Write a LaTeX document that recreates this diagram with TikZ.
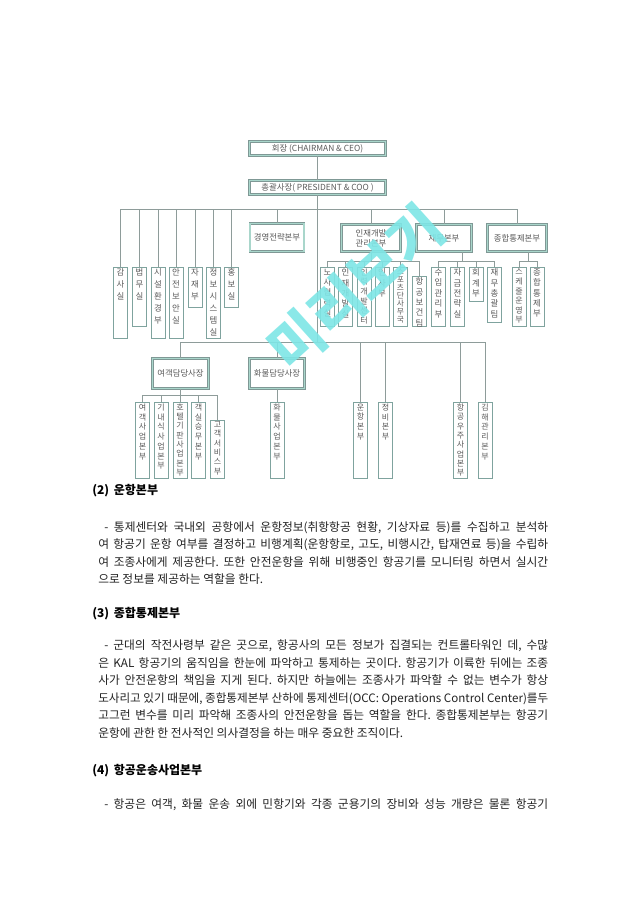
\documentclass[tikz,border=0pt]{standalone}
\usepackage{fontspec}
\usepackage{graphicx}
\setmainfont{Noto Sans CJK KR}
\definecolor{chartline}{HTML}{8E9C9A}
\definecolor{boxedge}{HTML}{7FA39E}
\definecolor{boxband}{HTML}{A9D6CB}
\definecolor{chartext}{HTML}{5A5A5A}
\definecolor{wmcyan}{HTML}{7EE6E6}
\definecolor{bodytext}{HTML}{222222}

% vertical label: [font size]{box height px}{pitch}{text}
\newcommand{\vlab}[4][6.3]{\parbox[c][\dimexpr #2pt*3/4-2pt\relax][t]{8pt}{\centering\fontsize{#1}{#3}\selectfont #4}}
% justified line, squeezed when too long
\newsavebox\jlinebox
\newcommand{\jline}[2]{\sbox\jlinebox{#2}%
  \ifdim\wd\jlinebox>#1\relax\resizebox{#1}{!}{\usebox\jlinebox}%
  \else\makebox[#1][s]{#2}\fi}

\tikzset{
  conn/.style={draw=chartline, line width=0.5pt},
  headbox/.style={draw=boxedge!70!gray, double=boxband, double distance=1.3pt,
    line width=0.4pt, fill=white, text=chartext, align=center, inner sep=1pt,
    font=\fontsize{6.3}{7.6}\selectfont},
  vbox/.style={draw=boxedge, line width=0.6pt, fill=white, text=chartext,
    anchor=north, inner xsep=1.2pt, inner ysep=1pt},
  bodyline/.style={anchor=base west, inner sep=0pt, text=bodytext,
    font=\fontsize{8.8}{10}\selectfont\frenchspacing},
  headline/.style={anchor=base west, inner sep=0pt, text=black,
    font=\fontsize{9}{10}\selectfont\bfseries},
  wmark/.style={text=wmcyan, inner sep=0pt, font=\fontsize{43}{43}\selectfont\bfseries}
}

\begin{document}
\begin{tikzpicture}[x=0.75pt, y=-0.75pt]
\fill[white] (0,0) rectangle (640,905);
\useasboundingbox (0,0) rectangle (640,905);

\node[headbox, minimum width=102pt, minimum height=10.6pt] (chair) at (317.5,148.5) {회장 (CHAIRMAN \& CEO)};
\node[headbox, minimum width=102pt, minimum height=10.6pt] (pres) at (317.5,187.5) {총괄사장( PRESIDENT \& COO )};

\coordinate (topbus) at (317.5,209);
\coordinate (lowbus) at (317.5,342);

\node[headbox, minimum width=40.6pt, minimum height=21pt] (mgmt) at (277,237.5) {경영전략본부};
\node[headbox, minimum width=44.4pt, minimum height=20.4pt] (hrd) at (371,238) {인재개발\\관리본부};
\node[headbox, minimum width=41.4pt, minimum height=20.4pt] (fin) at (444,238) {재무본부};
\node[headbox, minimum width=44.4pt, minimum height=20.4pt] (occ) at (517,238) {종합통제본부};

\node[vbox] (gamsa) at (120.5,267) {\vlab{71}{9pt}{감\\사\\실}};
\node[vbox] (legal) at (139.5,267) {\vlab{59}{9pt}{법\\무\\실}};
\node[vbox] (facility) at (158,267) {\vlab{71}{9pt}{시\\설\\환\\경\\부}};
\node[vbox] (security) at (176,267) {\vlab{71}{9pt}{안\\전\\보\\안\\실}};
\node[vbox] (supply) at (195,267) {\vlab{40}{9pt}{자\\재\\부}};
\node[vbox] (infosys) at (213.5,267) {\vlab{71}{9pt}{정\\보\\시\\스\\템\\실}};
\node[vbox] (promo) at (231.5,267) {\vlab{40}{9pt}{홍\\보\\실}};

\node[vbox] (labor) at (327.5,267) {\vlab{59}{7.8pt}{노\\사\\협\\력\\실}};
\node[vbox] (talent) at (345.5,267) {\vlab{59}{7.8pt}{인\\재\\개\\발\\실}};
\node[vbox] (hrcenter) at (364,267) {\vlab[6]{59}{7.2pt}{인\\력\\개\\발\\센\\터}};
\node[vbox] (personnel) at (382,267) {\vlab{59}{7.8pt}{인\\사\\부}};
\node[vbox] (sports) at (400.5,267) {\vlab[5.8]{59}{6pt}{스\\포\\츠\\단\\사\\무\\국}};
\node[vbox] (health) at (419.5,276) {\vlab{50}{7.8pt}{항\\공\\보\\건\\팀}};

\node[vbox] (revenue) at (438.5,267) {\vlab{59}{7.8pt}{수\\입\\관\\리\\부}};
\node[vbox] (funds) at (457.5,267) {\vlab{59}{7.8pt}{자\\금\\전\\략\\실}};
\node[vbox] (account) at (476,267) {\vlab{34}{7.8pt}{회\\계\\부}};
\node[vbox] (fingen) at (494.5,267) {\vlab{55}{7.8pt}{재\\무\\총\\괄\\팀}};

\node[vbox] (sched) at (519,267) {\vlab[6]{59}{7.2pt}{스\\케\\줄\\운\\영\\부}};
\node[vbox] (control) at (537,267) {\vlab{59}{7.8pt}{종\\합\\통\\제\\부}};

\node[headbox, minimum width=42.1pt, minimum height=22.6pt] (pax) at (180.5,373.5) {여객담당사장};
\node[headbox, minimum width=41.4pt, minimum height=22.6pt] (cargo) at (277,373.5) {화물담당사장};
\coordinate (paxbus) at (180.5,395);

\node[vbox] (paxbiz) at (142.5,402) {\vlab[6]{76}{7.3pt}{여\\객\\사\\업\\본\\부}};
\node[vbox] (catering) at (161,402) {\vlab[6]{76}{7.3pt}{기\\내\\식\\사\\업\\본\\부}};
\node[vbox] (hotel) at (180,402) {\vlab[6]{76}{7pt}{호\\텔\\기\\판\\사\\업\\본\\부}};
\node[vbox] (cabin) at (198.5,402) {\vlab[6]{76}{7.3pt}{객\\실\\승\\무\\본\\부}};
\node[vbox] (service) at (217.5,420) {\vlab[6]{58}{7pt}{고\\객\\서\\비\\스\\부}};
\node[vbox] (cargobiz) at (277,402) {\vlab[6]{76}{7.3pt}{화\\물\\사\\업\\본\\부}};
\node[vbox] (flight) at (360.5,402) {\vlab[6]{76}{7.3pt}{운\\항\\본\\부}};
\node[vbox] (maint) at (385.5,402) {\vlab[6]{76}{7.3pt}{정\\비\\본\\부}};
\node[vbox] (aero) at (460.5,402) {\vlab[6]{76}{7pt}{항\\공\\우\\주\\사\\업\\본\\부}};
\node[vbox] (gimhae) at (485,402) {\vlab[6]{76}{7.3pt}{김\\해\\관\\리\\본\\부}};

\draw[conn] (chair) -- (pres);
\draw[conn] (pres.south) -- (pres.south |- lowbus);
\foreach \n in {gamsa,legal,facility,security,supply,infosys,promo,mgmt,hrd,fin,occ}
  \draw[conn] (\n.north) |- (topbus);

\coordinate (hrdbus) at (371,261);
\coordinate (finbus) at (462,261);
\coordinate (occbus) at (528,261);
\draw[conn] (hrd.south) -- (hrdbus);
\draw[conn] (fin.south -| finbus) -- (finbus);
\draw[conn] (occ.south -| occbus) -- (occbus);
\foreach \n in {labor,talent,hrcenter,personnel,sports,health}
  \draw[conn] (\n.north) |- (hrdbus);
\foreach \n in {revenue,funds,account,fingen}
  \draw[conn] (\n.north) |- (finbus);
\foreach \n in {sched,control}
  \draw[conn] (\n.north) |- (occbus);

\foreach \n in {pax,cargo,flight,maint,aero,gimhae}
  \draw[conn] (\n.north) |- (lowbus);
\draw[conn] (pax.south) -- (paxbus);
\foreach \n in {paxbiz,catering,hotel,cabin,service}
  \draw[conn] (\n.north) |- (paxbus);
\draw[conn] (cargo.south) -- (cargobiz.north);

\node[headline] (s2head) at (92,494.5) {(2)\, 운항본부};
\node[bodyline] (s2a) at (104,531.5) {\jline{333pt}{- 통제센터와 국내외 공항에서 운항정보(취항항공 현황, 기상자료 등)를 수집하고 분석하}};
\node[bodyline] (s2b) at (98,548.8) {\jline{337.5pt}{여 항공기 운항 여부를 결정하고 비행계획(운항항로, 고도, 비행시간, 탑재연료 등)을 수립하}};
\node[bodyline] (s2c) at (98,566.1) {\jline{337.5pt}{여 조종사에게 제공한다. 또한 안전운항을 위해 비행중인 항공기를 모니터링 하면서 실시간}};
\node[bodyline] (s2d) at (98,583.4) {으로 정보를 제공하는 역할을 한다.};

\node[headline] (s3head) at (92,617) {(3)\, 종합통제본부};
\node[bodyline] (s3a) at (104,649.8) {\jline{333pt}{- 군대의 작전사령부 같은 곳으로, 항공사의 모든 정보가 집결되는 컨트롤타워인 데, 수많}};
\node[bodyline] (s3b) at (98,667.3) {\jline{337.5pt}{은 KAL 항공기의 움직임을 한눈에 파악하고 통제하는 곳이다. 항공기가 이륙한 뒤에는 조종}};
\node[bodyline] (s3c) at (98,684.8) {\jline{337.5pt}{사가 안전운항의 책임을 지게 된다. 하지만 하늘에는 조종사가 파악할 수 없는 변수가 항상}};
\node[bodyline] (s3d) at (98,702.3) {\jline{337.5pt}{도사리고 있기 때문에, 종합통제본부 산하에 통제센터(OCC: Operations Control Center)를두}};
\node[bodyline] (s3e) at (98,719.8) {\jline{337.5pt}{고그런 변수를 미리 파악해 조종사의 안전운항을 돕는 역할을 한다. 종합통제본부는 항공기}};
\node[bodyline] (s3f) at (98,737.3) {운항에 관한 한 전사적인 의사결정을 하는 매우 중요한 조직이다.};

\node[headline] (s4head) at (92,774.5) {(4)\, 항공운송사업본부};
\node[bodyline] (s4a) at (104,808.8) {\jline{333pt}{- 항공은 여객, 화물 운송 외에 민항기와 각종 군용기의 장비와 성능 개량은 물론 항공기}};

\node[wmark, rotate=42, opacity=0.9] (wm) at (356,288) {미리보기};
\end{tikzpicture}
\end{document}
